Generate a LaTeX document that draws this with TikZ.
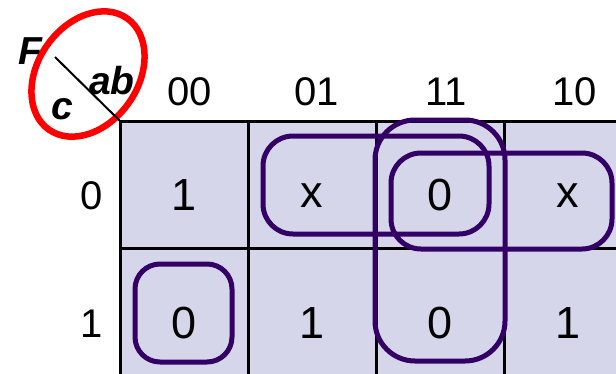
\documentclass[tikz,border=0pt]{standalone}
\usepackage{fontspec}
\setmainfont{Liberation Sans}
\begin{document}
\begin{tikzpicture}[x=1pt,y=-1pt,
  grid/.style={line width=3pt,black},
  loop/.style={line width=5pt,draw={rgb,255:red,51;green,0;blue,102},rounded corners=30pt},
  cellval/.style={font=\fontsize{45}{45}\selectfont,inner sep=0pt,anchor=center},
  lab/.style={font=\fontsize{40}{40}\selectfont,inner sep=0pt,anchor=center},
  var/.style={font=\fontsize{39}{39}\selectfont\bfseries\itshape,inner sep=0pt,anchor=center}]
\useasboundingbox (0,0) rectangle (616,373);
\clip (0,0) rectangle (616,373);
\definecolor{cellfill}{RGB}{214,214,235}
\fill[cellfill] (120,121) rectangle (640,400);
\draw[grid] (120,121) -- (640,121);
\draw[grid] (120,248) -- (640,248);
\foreach \x in {120,248,376,504} \draw[grid] (\x,121) -- (\x,400);
% column labels
\node[lab] (c00) at (190,92) {00};
\node[lab] (c01) at (317,92) {01};
\node[lab] (c11) at (446,92) {11};
\node[lab] (c10) at (575,92) {10};
\node[lab] (r0) at (92,196) {0};
\node[lab] (r1) at (92,324) {1};
% cells
\node[cellval] (a00) at (184,195) {1};
\node[cellval] (a01) at (312,196) {x};
\node[cellval] (a11) at (440,195) {0};
\node[cellval] (a10) at (568,196) {x};
\node[cellval] (b00) at (184,323) {0};
\node[cellval] (b01) at (312,323) {1};
\node[cellval] (b11) at (440,323) {0};
\node[cellval] (b10) at (568,323) {1};
% loops
\draw[loop] (263,136) rectangle (489,234);
\draw[loop,rounded corners=40pt] (375,120) rectangle (505,361);
\draw[loop] (391,153) rectangle (612,249);
\draw[loop,rounded corners=25pt] (135,264) rectangle (232,362);
% corner
\draw[red,line width=6.5pt] (88,74) ellipse[x radius=50,y radius=68,rotate=-35];
\coordinate (d1) at (55,57);
\coordinate (d2) at (120,121);
\draw[line width=2pt] (d1) -- (d2);
\node[var] (F) at (30,51) {F};
\node[var] (ab) at (112,81) {ab};
\node[var] (c) at (62,109) {c};
\end{tikzpicture}
\end{document}
